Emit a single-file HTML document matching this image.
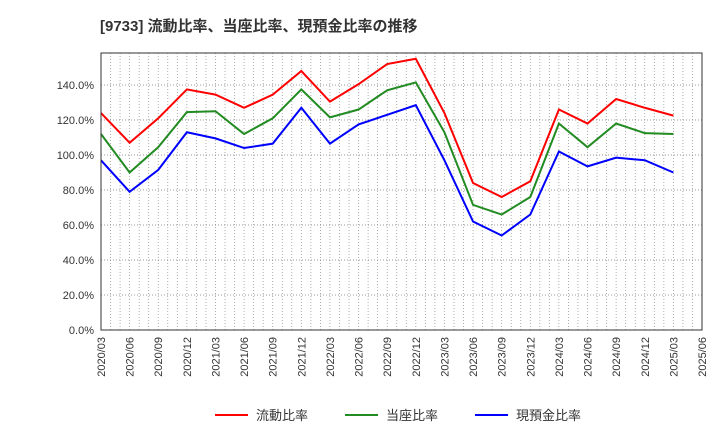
<!DOCTYPE html>
<html><head><meta charset="utf-8"><style>
body{margin:0;background:#fff;}
svg text{font-family:"Liberation Sans","Noto Sans CJK JP",sans-serif;}
</style></head><body>
<svg id="c" width="720" height="440" xmlns="http://www.w3.org/2000/svg">
<text x="100" y="31" font-size="15" font-weight="bold" fill="#333">[9733]  流動比率、当座比率、現預金比率の推移</text>
<g id="grid"></g><g id="series"></g><g id="axes"></g>
<g>
<line x1="215" y1="415" x2="248" y2="415" stroke="#f00" stroke-width="2"/>
<text x="256" y="420" font-size="13" fill="#333">流動比率</text>
<line x1="345" y1="415" x2="378" y2="415" stroke="#228b22" stroke-width="2"/>
<text x="386" y="420" font-size="13" fill="#333">当座比率</text>
<line x1="475" y1="415" x2="508" y2="415" stroke="#00f" stroke-width="2"/>
<text x="516" y="420" font-size="13" fill="#333">現預金比率</text>
</g>
</svg>
<script>
const categories=["2020/03","2020/06","2020/09","2020/12","2021/03","2021/06","2021/09","2021/12","2022/03","2022/06","2022/09","2022/12","2023/03","2023/06","2023/09","2023/12","2024/03","2024/06","2024/09","2024/12","2025/03","2025/06"];
const currentRatio=[124,107,121,137.5,134.5,127,134.5,148,130.5,140.5,152,155,124,84,76,85,126,118,132,127,122.5];
const quickRatio=[112,90,104.5,124.5,125,112,121,137.5,121.5,126,137,141.5,113,71.5,66,76,118,104.5,118,112.5,112];
const cashRatio=[97,79,91.5,113,109.5,104,106.5,127,106.5,117.5,123,128.5,97,62,54,66,102,93.5,98.5,97,90];
const yTicks=[0,20,40,60,80,100,120,140];
const L=101,R=702,T=53,B=330,yMax=158.3;
const x=i=>L+(R-L)*i/(categories.length-1);
const y=v=>B-(B-T)*v/yMax;
const NS="http://www.w3.org/2000/svg";
function mk(tag,attrs,parent){const e=document.createElementNS(NS,tag);for(const k in attrs)e.setAttribute(k,attrs[k]);parent.appendChild(e);return e;}
const grid=document.getElementById('grid'),axes=document.getElementById('axes'),ser=document.getElementById('series');
for(let m=1;m<(categories.length-1)*3;m++){
 const gx=L+(R-L)*m/((categories.length-1)*3);
 const l=mk('line',{x1:gx,x2:gx,y1:T,y2:B,stroke:'#999','stroke-width':0.8,'stroke-dasharray':'1,2'},grid);
 
 
}
yTicks.forEach(v=>{
 if(v>0){const l=mk('line',{x1:L,x2:R,y1:y(v),y2:y(v),stroke:'#777','stroke-width':0.8,'stroke-dasharray':'1,2'},grid);
 
 }
 const t=mk('text',{x:L-7,y:y(v)+4,'font-size':11,fill:'#333','text-anchor':'end'},axes);
 t.textContent=v.toFixed(1)+'%';
 
 
});
const fr=mk('rect',{x:L,y:T,width:R-L,height:B-T,fill:'none',stroke:'#333','stroke-width':1},axes);


categories.forEach((c,i)=>{
 const t=mk('text',{x:0,y:0,'font-size':11,fill:'#333','text-anchor':'end',transform:`translate(${x(i)+4},${B+7}) rotate(-90)`},axes);
 t.textContent=c;
 
 
});
[[currentRatio,'#f00','current-ratio-line'],[quickRatio,'#228b22','quick-ratio-line'],[cashRatio,'#00f','cash-ratio-line']].forEach(([d,col,n])=>{
 const p=mk('polyline',{points:d.map((v,i)=>x(i)+','+y(v)).join(' '),fill:'none',stroke:col,'stroke-width':2},ser);
 
 
});
</script>
</body></html>
